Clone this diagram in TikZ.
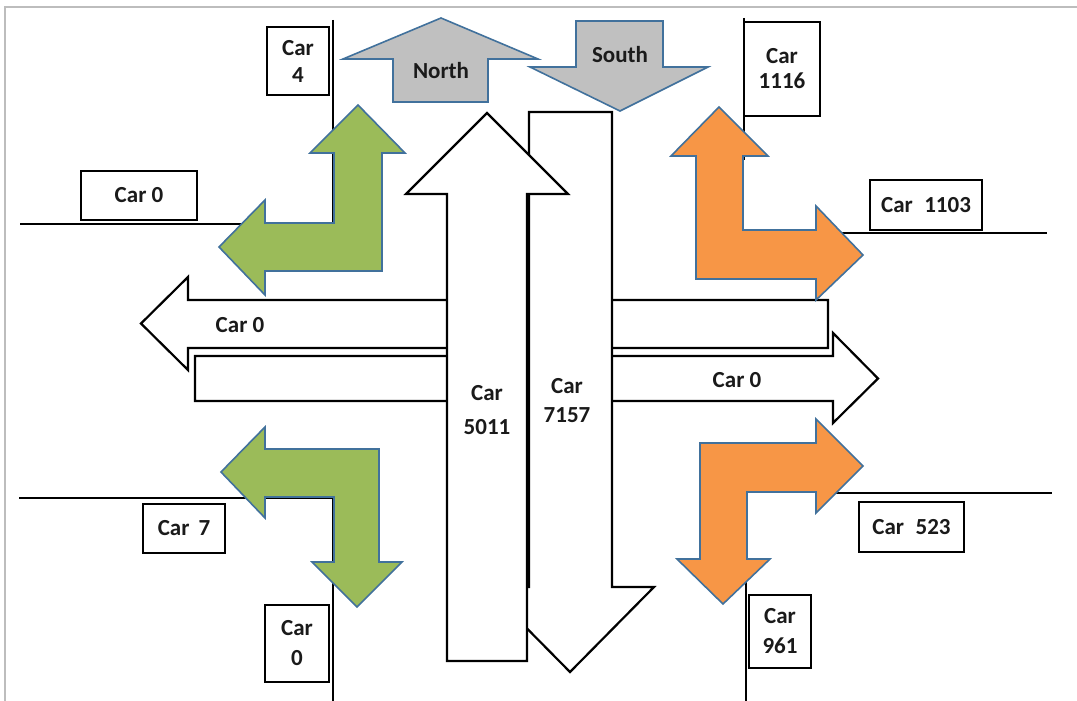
\documentclass[tikz,border=0pt]{standalone}
\usepackage{fontspec}
\setmainfont{Carlito}
\definecolor{grn}{HTML}{9BBB59}
\definecolor{org}{HTML}{F79646}
\definecolor{gry}{HTML}{C0C0C0}
\definecolor{bluo}{HTML}{41719C}
\definecolor{txt}{HTML}{1A1A1A}
\definecolor{frm}{HTML}{BDBDBD}
\begin{document}
\begin{tikzpicture}[x=1pt,y=-1pt,
  lbl/.style={font=\fontsize{23}{27}\selectfont\bfseries, text=txt, align=center, inner sep=0pt},
  carbox/.style={draw=black, line width=2.6pt, fill=white, lbl, anchor=center},
  road/.style={draw=black, line width=2.8pt},
  bigarrow/.style={draw=black, line width=2.2pt, fill=white, line join=miter},
  turnarrow/.style={draw=bluo, line width=1.6pt, line join=miter},
  dirarrow/.style={draw=bluo, line width=1.6pt, fill=gry, line join=miter}]
\useasboundingbox (0,0) rectangle (1077,701);
% frame
\draw[frm, line width=2.5pt] (5,701) -- (5,7) -- (1077,7);

% roads
\coordinate (tlv1) at (333,20);  \coordinate (tlv2) at (333,224);
\coordinate (tlh1) at (20,224);
\draw[road] (tlv1) -- (tlv2) -- (tlh1);
\coordinate (trv1) at (744,18);  \coordinate (trv2) at (744,160);
\draw[road] (trv1) -- (trv2);
\coordinate (trh1) at (820,233); \coordinate (trh2) at (1047,233);
\draw[road] (trh1) -- (trh2);
\coordinate (blh1) at (19,498);  \coordinate (blc) at (333,498); \coordinate (blv2) at (333,701);
\draw[road] (blh1) -- (blc) -- (blv2);
\coordinate (brh1) at (830,493); \coordinate (brh2) at (1052,493);
\draw[road] (brh1) -- (brh2);
\coordinate (brv1) at (746,570); \coordinate (brv2) at (746,701);
\draw[road] (brv1) -- (brv2);

% horizontal arrows
\draw[bigarrow] (828,300) -- (828,348) -- (188,348) -- (188,370) -- (141,323.5) -- (188,277) -- (188,300) -- cycle;
\draw[bigarrow] (195,356) -- (833,356) -- (833,333) -- (878,378.5) -- (833,423) -- (833,401) -- (195,401) -- cycle;
% vertical arrows
\draw[bigarrow] (529,112) -- (612,112) -- (612,587) -- (654,587) -- (570,672) -- (486,587) -- (529,587) -- cycle;
\draw[bigarrow] (487,113) -- (568,194) -- (527,194) -- (527,661) -- (447,661) -- (447,194) -- (406,194) -- cycle;

% direction arrows
\draw[dirarrow] (441,18) -- (538,59) -- (488,59) -- (488,102) -- (393,102) -- (393,59) -- (343,59) -- cycle;
\draw[dirarrow] (576,21) -- (663,21) -- (663,67) -- (708,67) -- (620,111) -- (530,67) -- (576,67) -- cycle;

% turn arrows
\draw[turnarrow, fill=grn] (358,105) -- (405,153) -- (382,153) -- (382,271) -- (265,271) -- (265,295) -- (219,247) -- (265,200) -- (265,223) -- (334,223) -- (334,153) -- (310,153) -- cycle;
\draw[turnarrow, fill=grn] (221,472) -- (265,427) -- (265,449) -- (379,449) -- (379,562) -- (402,562) -- (357,607) -- (312,562) -- (334,562) -- (334,497) -- (265,497) -- (265,518) -- cycle;
\draw[turnarrow, fill=org] (719,107) -- (768,156) -- (743,156) -- (743,230) -- (816,230) -- (816,206) -- (863,255) -- (816,300) -- (816,279) -- (696,279) -- (696,156) -- (671,156) -- cycle;
\draw[turnarrow, fill=org] (863,466) -- (816,419) -- (816,443) -- (700,443) -- (700,559) -- (677,559) -- (723,604) -- (770,559) -- (747,559) -- (747,492) -- (816,492) -- (816,513) -- cycle;

% labels on arrows
\node[lbl] (north) at (441,71) {North};
\node[lbl] (south) at (620,55) {South};
\node[lbl] (wlab) at (240,325) {Car 0};
\node[lbl] (elab) at (737,380) {Car 0};
\node[lbl, font=\fontsize{23}{34}\selectfont\bfseries] (nlab) at (487,410) {Car\\5011};
\node[lbl, font=\fontsize{23}{29}\selectfont\bfseries] (slab) at (567,401) {Car\\7157};

% car boxes
\node[carbox, minimum width=116pt, minimum height=49pt] (c0w) at (139,195.5) {Car 0};
\node[carbox, minimum width=62pt, minimum height=68pt] (c4) at (298,61) {Car\\4};
\node[carbox, minimum width=76pt, minimum height=94pt, font=\fontsize{23}{25}\selectfont\bfseries] (c1116) at (782,69) {Car\\1116};
\node[carbox, minimum width=112pt, minimum height=50pt] (c1103) at (926,205) {Car\enspace1103};
\node[carbox, minimum width=82pt, minimum height=49pt] (c7) at (184,528.5) {Car\ \,7};
\node[carbox, minimum width=64pt, minimum height=77pt, font=\fontsize{23}{30}\selectfont\bfseries] (c0s) at (297,643.5) {Car\\0};
\node[carbox, minimum width=105pt, minimum height=50pt] (c523) at (911.5,527) {Car\enspace523};
\node[carbox, minimum width=62pt, minimum height=73pt, font=\fontsize{23}{30}\selectfont\bfseries] (c961) at (780,631.5) {Car\\961};
\end{tikzpicture}
\end{document}
